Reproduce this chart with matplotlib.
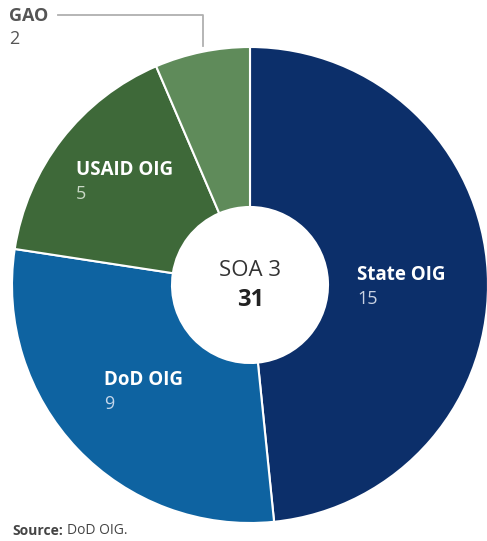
import matplotlib
matplotlib.use("Agg")
import matplotlib.pyplot as plt

# data
labels = ["State OIG", "DoD OIG", "USAID OIG", "GAO"]
counts = [15, 9, 5, 2]
colors = ["#0c2f6a", "#0e63a1", "#3e6939", "#5f8b5a"]
center_title = "SOA 3"
total = sum(counts)

plt.rcParams['font.family'] = ['Open Sans', 'DejaVu Sans']

W, H = 487, 541
fig = plt.figure(figsize=(W / 100, H / 100), dpi=100)
ax = fig.add_axes([0, 0, 1, 1])

# work in pixel coords, y measured from the top
def py(y):
    return H - y

R = 238
r_in = 78
ax.pie(counts, colors=colors, startangle=90, counterclock=False,
       center=(250, py(285)), radius=R,
       wedgeprops=dict(width=R - r_in, edgecolor="white", linewidth=1.5))
ax.set_xlim(0, W)
ax.set_ylim(0, H)
ax.set_aspect("equal")
ax.axis("off")

# center text
ax.text(250, py(270), center_title, ha="center", va="center", fontsize=16, color="#333333")
ax.text(251, py(300), str(total), ha="center", va="center", fontsize=17, color="#222222",
        fontweight="bold")

# slice labels (name bold, value lighter)
lab_pos = {
    "State OIG": (357, 275, "#c9d2e2"),
    "DoD OIG": (104, 380, "#c4d6ea"),
    "USAID OIG": (76, 170, "#c9d8c6"),
}
for name, n in zip(labels, counts):
    if name in lab_pos:
        x, y, vc = lab_pos[name]
        ax.text(x, py(y), name, ha="left", va="center", fontsize=13.5, color="white",
                fontweight="bold")
        ax.text(x, py(y + 24), str(n), ha="left", va="center", fontsize=13, color=vc)

# GAO outside with leader line
ax.text(9, py(16), labels[3], ha="left", va="center", fontsize=13, color="#555555",
        fontweight="bold")
ax.text(9, py(39), str(counts[3]), ha="left", va="center", fontsize=13, color="#555555")
ax.plot([58, 203, 203], [py(15), py(15), py(46)], color="#b0b0b0", lw=1.3)

# source
ax.text(12, py(531), "Source:", ha="left", va="center", fontsize=10, color="#444444",
        fontweight="bold")
ax.text(67, py(531), "DoD OIG.", ha="left", va="center", fontsize=10, color="#444444")

fig.savefig("out.png", dpi=100)
